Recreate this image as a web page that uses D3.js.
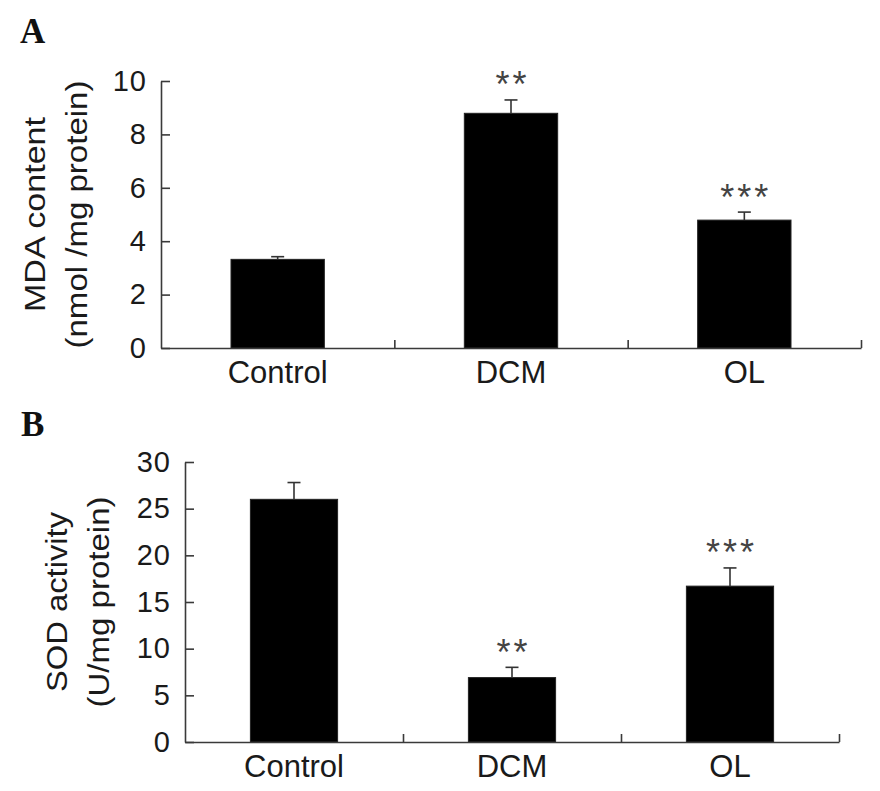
<!DOCTYPE html>
<html>
<head>
<meta charset="utf-8">
<script src="https://cdn.jsdelivr.net/npm/d3@7"></script>
<style>
  html, body { margin: 0; padding: 0; background: #fff; }
  svg { display: block; }
</style>
</head>
<body>
<div id="chart"></div>
<script>
// data
const groups = ["Control", "DCM", "OL"];

const mdaMean = [3.32, 8.79, 4.79];
const mdaErr = [0.10, 0.50, 0.30];
const mdaStars = ["", "**", "***"];
const mdaTicks = [0, 2, 4, 6, 8, 10];

const sodMean = [26.0, 6.9, 16.7];
const sodErr = [1.8, 1.1, 1.95];
const sodStars = ["", "**", "***"];
const sodTicks = [0, 5, 10, 15, 20, 25, 30];

const W = 880, H = 791;
const FONT = "'Liberation Sans', Arial, Helvetica, sans-serif";
const AXIS = "#3a3a3a";
const STAR_SIZE = 36;

const svg = d3.select("#chart").append("svg")
    .attr("width", W)
    .attr("height", H)
    .style("background", "#fff");

const panels = [
    {
        letter: "A", letterX: 20, letterY: 43,
        mean: mdaMean, err: mdaErr, stars: mdaStars, ticks: mdaTicks,
        domain: [0, 10], x0: 161, x1: 861, yTop: 81, yBot: 348,
        label1: "MDA content", label2: "(nmol /mg protein)",
        lab1X: 45, lab2X: 87, labLen1: 195, labLen2: 268,
        catY: 383
    },
    {
        letter: "B", letterX: 21, letterY: 436,
        mean: sodMean, err: sodErr, stars: sodStars, ticks: sodTicks,
        domain: [0, 30], x0: 185, x1: 839, yTop: 462, yBot: 742,
        label1: "SOD activity", label2: "(U/mg protein)",
        lab1X: 67, lab2X: 109, labLen1: 180, labLen2: 211,
        catY: 777
    }
];

panels.forEach(drawPanel);

function drawPanel(p) {
    const g = svg.append("g");

    const y = d3.scaleLinear().domain(p.domain).range([p.yBot, p.yTop]);
    const x = d3.scaleBand()
        .domain(groups)
        .range([p.x0, p.x1])
        .paddingInner(0.6)
        .paddingOuter(0.3);
    // boundaries between categories
    const xb = d3.scaleLinear().domain([0, groups.length]).range([p.x0, p.x1]);

    // panel letter
    svg.append("text")
        .attr("x", p.letterX)
        .attr("y", p.letterY)
        .style("font-family", "'Liberation Serif', 'Times New Roman', serif")
        .style("font-weight", "bold")
        .style("font-size", "35px")
        .style("fill", "#111")
        .text(p.letter);

    // bars
    g.append("g")
        .selectAll("rect")
        .data(groups)
        .enter()
        .append("rect")
        .attr("x", d => x(d))
        .attr("width", x.bandwidth())
        .attr("y", (d, i) => y(p.mean[i]))
        .attr("height", (d, i) => y(0) - y(p.mean[i]))
        .attr("fill", "#000")
        .attr("stroke", "#222")
        .attr("stroke-width", 1);

    // error bars (upper only)
    const eb = g.append("g")
        .attr("stroke", "#333")
        .attr("stroke-width", 1.6)
        .selectAll("g")
        .data(groups)
        .enter()
        .append("g");
    eb.append("line")
        .attr("x1", d => x(d) + x.bandwidth() / 2)
        .attr("x2", d => x(d) + x.bandwidth() / 2)
        .attr("y1", (d, i) => y(p.mean[i]))
        .attr("y2", (d, i) => y(p.mean[i] + p.err[i]));
    eb.append("line")
        .attr("x1", d => x(d) + x.bandwidth() / 2 - 6.5)
        .attr("x2", d => x(d) + x.bandwidth() / 2 + 6.5)
        .attr("y1", (d, i) => y(p.mean[i] + p.err[i]))
        .attr("y2", (d, i) => y(p.mean[i] + p.err[i]));

    // significance stars
    g.append("g")
        .selectAll("text")
        .data(groups)
        .enter()
        .append("text")
        .attr("x", d => x(d) + x.bandwidth() / 2 + 1.5)
        .attr("y", (d, i) => y(p.mean[i] + p.err[i]) - 23 + 0.57 * STAR_SIZE)
        .attr("text-anchor", "middle")
        .style("font-family", FONT)
        .style("font-size", STAR_SIZE + "px")
        .style("letter-spacing", "3px")
        .style("fill", "#444")
        .text((d, i) => p.stars[i]);

    // y axis, ticks pointing inward
    const yAxis = g.append("g")
        .attr("transform", `translate(${p.x0},0)`)
        .call(d3.axisLeft(y)
            .tickValues(p.ticks)
            .tickSizeInner(-9)
            .tickSizeOuter(0)
            .tickPadding(14)
            .tickFormat(d3.format("d")));

    // x axis line with boundary ticks pointing up
    const xAxis = g.append("g")
        .attr("transform", `translate(0,${p.yBot})`)
        .call(d3.axisBottom(xb)
            .tickValues(d3.range(1, groups.length + 1))
            .tickSizeInner(-8)
            .tickSizeOuter(0)
            .tickFormat(""));

    [yAxis, xAxis].forEach(a => {
        a.select(".domain").attr("stroke", AXIS).attr("stroke-width", 1.6);
        a.selectAll(".tick line").attr("stroke", AXIS).attr("stroke-width", 1.6);
    });
    yAxis.selectAll(".tick text")
        .style("font-family", FONT)
        .style("font-size", "29px")
        .style("letter-spacing", "1px")
        .style("fill", "#1a1a1a");

    // category labels
    g.append("g")
        .selectAll("text")
        .data(groups)
        .enter()
        .append("text")
        .attr("x", d => x(d) + x.bandwidth() / 2)
        .attr("y", p.catY)
        .attr("text-anchor", "middle")
        .style("font-family", FONT)
        .style("font-size", "31px")
        .style("fill", "#1a1a1a")
        .text(d => d);

    // y label, two lines
    const midY = (p.yTop + p.yBot) / 2;
    [[p.label1, p.lab1X, p.labLen1], [p.label2, p.lab2X, p.labLen2]].forEach(([t, lx, len]) => {
        svg.append("text")
            .attr("transform", `translate(${lx},${midY}) rotate(-90)`)
            .attr("text-anchor", "middle")
            .attr("textLength", len)
            .attr("lengthAdjust", "spacingAndGlyphs")
            .style("font-family", FONT)
            .style("font-size", "29px")
            .style("fill", "#1a1a1a")
            .text(t);
    });
}
</script>
</body>
</html>
